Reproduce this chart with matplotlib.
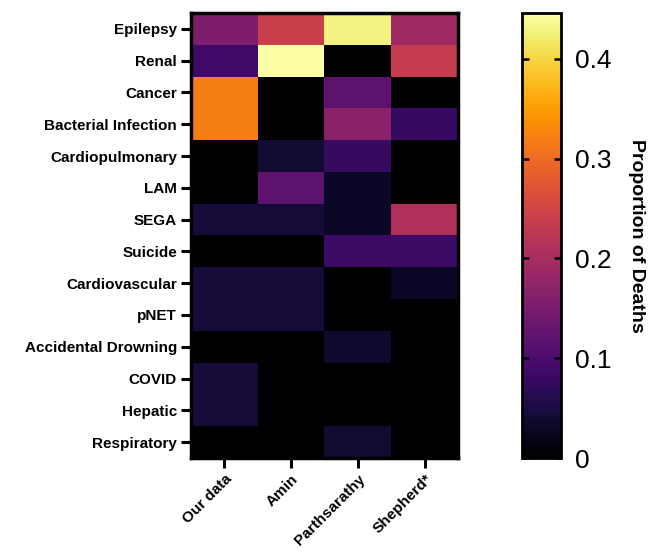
import numpy as np
import matplotlib
matplotlib.use('Agg')
import matplotlib.pyplot as plt

plt.rcParams['font.family'] = ['Liberation Sans', 'DejaVu Sans']

causes = ['Epilepsy', 'Renal', 'Cancer', 'Bacterial Infection', 'Cardiopulmonary',
          'LAM', 'SEGA', 'Suicide', 'Cardiovascular', 'pNET',
          'Accidental Drowning', 'COVID', 'Hepatic', 'Respiratory']
studies = ['Our data', 'Amin', 'Parthsarathy', 'Shepherd*']

our_data = [0.155, 0.09, 0.32, 0.32, 0.0, 0.0, 0.045, 0.0, 0.045, 0.045, 0.0, 0.045, 0.045, 0.0]
amin = [0.24, 0.446, 0.0, 0.0, 0.04, 0.12, 0.045, 0.0, 0.045, 0.045, 0.0, 0.0, 0.0, 0.0]
parthsarathy = [0.43, 0.0, 0.12, 0.17, 0.08, 0.03, 0.03, 0.085, 0.0, 0.0, 0.035, 0.0, 0.0, 0.04]
shepherd = [0.19, 0.235, 0.0, 0.08, 0.0, 0.0, 0.21, 0.085, 0.03, 0.0, 0.0, 0.0, 0.0, 0.0]

data = np.array([our_data, amin, parthsarathy, shepherd]).T

fig = plt.figure(figsize=(6.59, 5.53), dpi=100)
ax = fig.add_axes([191/659, 1 - 458/553, 267/659, 445/553])
cax = fig.add_axes([522/659, 1 - 458/553, 39/659, 445/553])

im = ax.imshow(data, cmap='inferno', vmin=0, vmax=0.446, aspect='auto',
               interpolation='nearest')

ax.set_yticks(range(len(causes)))
ax.set_yticklabels(causes, fontsize=11, fontweight='bold')
ax.set_xticks(range(len(studies)))
ax.set_xticklabels(studies, fontsize=11, fontweight='bold', rotation=45,
                   ha='right', rotation_mode='anchor')
ax.tick_params(axis='both', direction='out', length=7, width=2.2, pad=3)
for s in ax.spines.values():
    s.set_linewidth(2.5)

cb = fig.colorbar(im, cax=cax)
cb.set_ticks([0, 0.1, 0.2, 0.3, 0.4])
cb.set_ticklabels(['0', '0.1', '0.2', '0.3', '0.4'])
cb.ax.tick_params(labelsize=19, direction='in', left=True, right=True,
                  length=5, width=1.8, pad=10)
cb.outline.set_linewidth(2)
cb.set_label('Proportion of Deaths', rotation=270, fontsize=14,
             fontweight='bold', labelpad=24)

fig.savefig('out.png', dpi=100)
